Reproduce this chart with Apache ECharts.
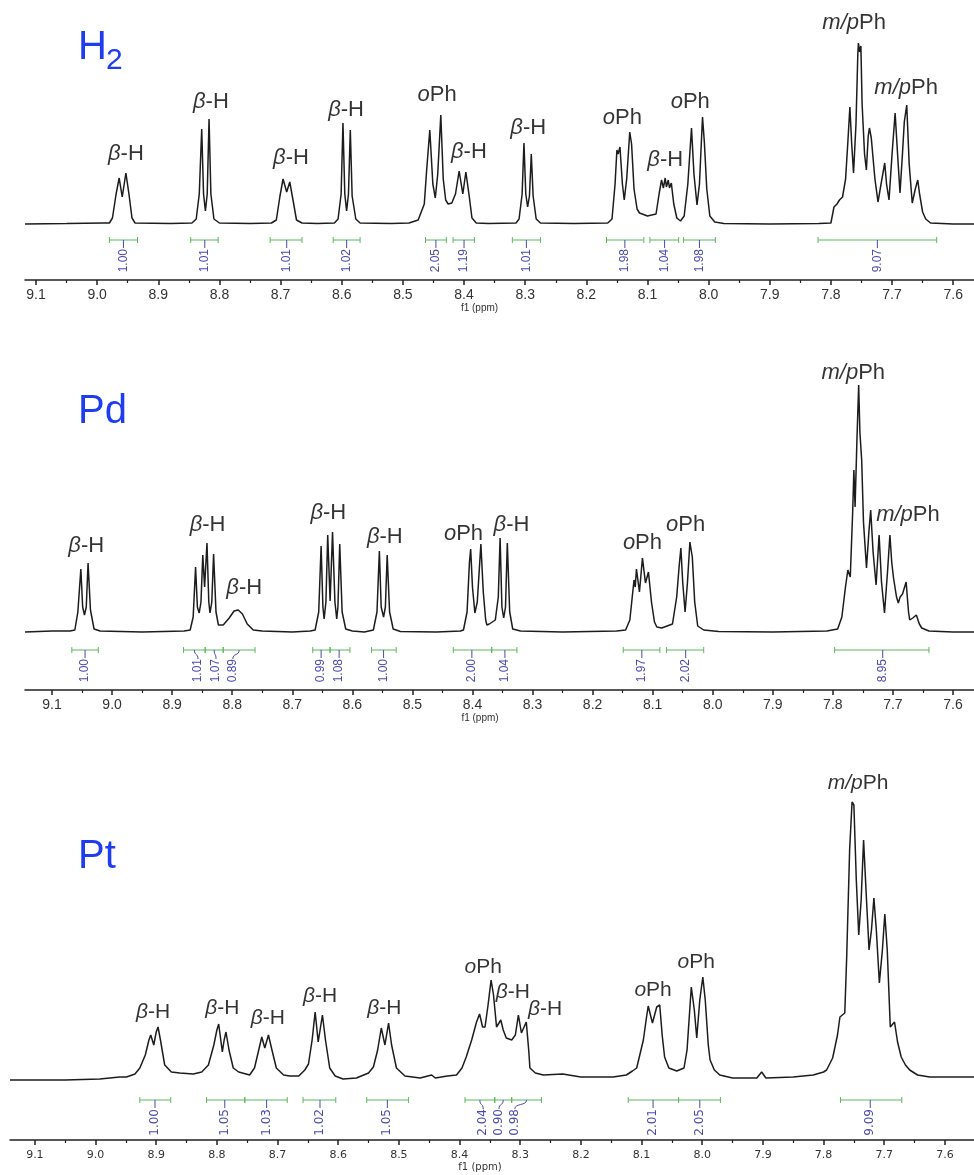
<!DOCTYPE html>
<html>
<head>
<meta charset="utf-8">
<title>1H NMR spectra</title>
<script src="https://cdn.jsdelivr.net/npm/echarts@6/dist/echarts.min.js"></script>
<style>
  html, body { margin: 0; padding: 0; background: #fff; }
  #chart { width: 974px; height: 1175px; }
</style>
</head>
<body>
<div id="chart"></div>
<script>
// ppm tick labels (shared by the three spectra)
const majorTicks = [7.6, 7.7, 7.8, 7.9, 8.0, 8.1, 8.2, 8.3, 8.4, 8.5, 8.6, 8.7, 8.8, 8.9, 9.0, 9.1];
const minorTicks = [7.65, 7.75, 7.85, 7.95, 8.05, 8.15, 8.25, 8.35, 8.45, 8.55, 8.65, 8.75, 8.85, 8.95, 9.05];

// H2 spectrum, [ppm, intensity]
const h2Spectrum = [
  [9.118, 0], [9.05, 0.5], [8.99, 1],
  [8.980, 1], [8.975, 6], [8.969, 30], [8.964, 46], [8.959, 27], [8.953, 51], [8.948, 30], [8.943, 6], [8.938, 1],
  [8.880, 0.5], [8.845, 1], [8.838, 5], [8.833, 30], [8.829, 95], [8.826, 30], [8.823, 13], [8.820, 30], [8.817, 105], [8.814, 30], [8.809, 5], [8.800, 1],
  [8.750, 0.5], [8.715, 1], [8.707, 4], [8.701, 28], [8.696, 45], [8.690, 32], [8.685, 42], [8.680, 25], [8.674, 4], [8.665, 1],
  [8.640, 0.5], [8.612, 1], [8.606, 5], [8.601, 30], [8.598, 101], [8.595, 30], [8.592, 13], [8.589, 30], [8.586, 94], [8.583, 28], [8.577, 5], [8.570, 1],
  [8.520, 0.5], [8.490, 1], [8.475, 4], [8.465, 20], [8.461, 55], [8.456, 94], [8.451, 40], [8.447, 26], [8.443, 50], [8.438, 109], [8.434, 45],
  [8.430, 24], [8.426, 20], [8.420, 21], [8.414, 30], [8.408, 53], [8.402, 30], [8.397, 52], [8.392, 30], [8.387, 6], [8.380, 1],
  [8.360, 0.5], [8.315, 1], [8.310, 5], [8.305, 30], [8.302, 81], [8.299, 30], [8.296, 17], [8.293, 28], [8.290, 70], [8.287, 28], [8.282, 5], [8.275, 1],
  [8.220, 0.5], [8.165, 1], [8.158, 5], [8.153, 40], [8.150, 74], [8.148, 70], [8.145, 77], [8.141, 40], [8.138, 24], [8.134, 45], [8.129, 92], [8.126, 80],
  [8.122, 35], [8.117, 15], [8.113, 11], [8.100, 8], [8.086, 10], [8.081, 30], [8.077, 44], [8.074, 36], [8.071, 46], [8.069, 37], [8.066, 44], [8.064, 36],
  [8.061, 41], [8.057, 20], [8.052, 6], [8.046, 3], [8.040, 8], [8.034, 40], [8.028, 96], [8.024, 50], [8.019, 19], [8.015, 40], [8.010, 107], [8.007, 82],
  [8.003, 35], [7.998, 8], [7.990, 2], [7.975, 0.5], [7.900, 0], [7.820, 0.5], [7.800, 1],
  [7.797, 3], [7.795, 17], [7.790, 20], [7.786, 24], [7.781, 27], [7.776, 45], [7.772, 85], [7.769, 117], [7.766, 80], [7.763, 51], [7.759, 100],
  [7.756, 170], [7.755, 181], [7.753, 172], [7.751, 178], [7.749, 120], [7.745, 70], [7.742, 54], [7.739, 88], [7.737, 96], [7.734, 86], [7.731, 86],
  [7.728, 45], [7.723, 22], [7.718, 40], [7.712, 61], [7.709, 40], [7.705, 24], [7.700, 70], [7.695, 111], [7.691, 70], [7.687, 31], [7.683, 70],
  [7.680, 102], [7.678, 100], [7.676, 119], [7.672, 60], [7.667, 21], [7.662, 35], [7.658, 44], [7.655, 30], [7.650, 12], [7.645, 5], [7.637, 1],
  [7.600, 0], [7.566, 0]
];
const h2Peaks = [
  [8.953, 70, 'β-H'], [8.814, 122, 'β-H'], [8.683, 66, 'β-H'], [8.593, 114, 'β-H'], [8.444, 129, 'oPh'], [8.392, 72, 'β-H'],
  [8.295, 96, 'β-H'], [8.141, 106, 'oPh'], [8.071, 64, 'β-H'], [8.030, 122, 'oPh'], [7.762, 201, 'm/pPh'], [7.677, 136, 'm/pPh']
];
// integrals: [from ppm, to ppm, value, label ppm]
const h2Integrals = [
  [8.980, 8.934, '1.00', 8.957], [8.847, 8.802, '1.01', 8.824], [8.717, 8.665, '1.01', 8.690], [8.614, 8.570, '1.02', 8.592],
  [8.463, 8.429, '2.05', 8.446], [8.418, 8.383, '1.19', 8.400], [8.321, 8.275, '1.01', 8.298], [8.167, 8.106, '1.98', 8.137],
  [8.096, 8.049, '1.04', 8.072], [8.041, 7.989, '1.98', 8.015], [7.821, 7.627, '9.07', 7.724]
];

// Pd spectrum
const pdSpectrum = [
  [9.145, 0], [9.100, 1], [9.070, 1],
  [9.062, 2], [9.057, 20], [9.052, 63], [9.049, 25], [9.046, 17], [9.043, 25], [9.040, 69], [9.036, 22], [9.030, 3], [9.020, 1],
  [8.950, 0], [8.880, 1], [8.870, 2], [8.865, 15], [8.861, 65], [8.858, 25], [8.855, 19], [8.852, 30], [8.849, 77], [8.846, 45], [8.842, 89],
  [8.839, 30], [8.837, 19], [8.834, 30], [8.831, 78], [8.827, 20], [8.823, 7], [8.815, 7], [8.805, 14], [8.797, 21], [8.790, 22], [8.783, 18],
  [8.775, 8], [8.765, 2], [8.750, 1], [8.700, 0], [8.670, 1],
  [8.662, 2], [8.656, 20], [8.652, 86], [8.649, 25], [8.647, 13], [8.644, 30], [8.641, 97], [8.637, 31], [8.633, 100], [8.629, 30], [8.626, 13],
  [8.624, 25], [8.621, 88], [8.617, 20], [8.611, 3], [8.600, 1], [8.580, 0],
  [8.565, 2], [8.559, 20], [8.555, 81], [8.552, 25], [8.548, 15], [8.545, 25], [8.542, 77], [8.538, 20], [8.532, 3], [8.520, 0.5],
  [8.460, 0], [8.420, 1], [8.415, 2], [8.409, 20], [8.405, 70], [8.403, 83], [8.400, 45], [8.396, 19], [8.392, 30], [8.386, 88], [8.382, 40],
  [8.378, 12], [8.376, 7], [8.372, 8], [8.362, 12], [8.357, 35], [8.354, 94], [8.351, 25], [8.348, 14], [8.345, 25], [8.342, 89], [8.338, 20],
  [8.333, 3], [8.320, 1], [8.250, 0], [8.160, 1],
  [8.145, 2], [8.138, 12], [8.134, 35], [8.131, 52], [8.129, 45], [8.127, 63], [8.122, 40], [8.117, 74], [8.112, 49], [8.107, 60], [8.102, 30],
  [8.097, 10], [8.093, 5], [8.085, 4], [8.067, 8], [8.060, 35], [8.056, 65], [8.053, 84], [8.050, 50], [8.046, 20], [8.042, 50], [8.038, 90],
  [8.034, 75], [8.030, 30], [8.025, 6], [8.015, 2], [7.990, 0.5], [7.900, 0], [7.810, 1],
  [7.792, 3], [7.785, 15], [7.779, 45], [7.775, 62], [7.771, 55], [7.767, 120], [7.765, 162], [7.763, 125], [7.760, 190], [7.757, 247], [7.755, 200],
  [7.752, 172], [7.749, 110], [7.744, 64], [7.740, 100], [7.737, 122], [7.733, 80], [7.728, 47], [7.723, 97], [7.719, 50], [7.714, 19], [7.709, 60],
  [7.705, 97], [7.702, 70], [7.699, 54], [7.694, 35], [7.691, 29], [7.688, 35], [7.684, 38], [7.678, 50], [7.674, 20], [7.672, 12], [7.667, 14],
  [7.661, 17], [7.656, 8], [7.652, 4], [7.640, 1], [7.600, 0], [7.565, 0]
];
const pdPeaks = [
  [9.043, 86, 'β-H'], [8.841, 107, 'β-H'], [8.780, 44, 'β-H'], [8.640, 119, 'β-H'], [8.546, 95, 'β-H'], [8.415, 98, 'oPh'],
  [8.335, 107, 'β-H'], [8.117, 89, 'oPh'], [8.045, 107, 'oPh'], [7.766, 259, 'm/pPh'], [7.675, 117, 'm/pPh']
];
const pdIntegrals = [
  [9.067, 9.023, '1.00', 9.045], [8.881, 8.845, '1.01', 8.857], [8.845, 8.815, '1.07', 8.827], [8.815, 8.762, '0.89', 8.799],
  [8.666, 8.637, '0.99', 8.652], [8.637, 8.604, '1.08', 8.622], [8.568, 8.527, '1.00', 8.548], [8.432, 8.368, '2.00', 8.401],
  [8.368, 8.326, '1.04', 8.346], [8.149, 8.088, '1.97', 8.118], [8.077, 8.015, '2.02', 8.045], [7.797, 7.640, '8.95', 7.717]
];

// Pt spectrum
const ptSpectrum = [
  [9.141, 0], [9.050, 0], [8.993, 1], [8.960, 3], [8.949, 3], [8.935, 6], [8.927, 12], [8.918, 25], [8.912, 40], [8.909, 45], [8.904, 35],
  [8.900, 48], [8.897, 53], [8.893, 40], [8.886, 15], [8.875, 8], [8.861, 7], [8.839, 6], [8.825, 8], [8.814, 15], [8.805, 35], [8.800, 50],
  [8.797, 56], [8.791, 28], [8.788, 40], [8.785, 48], [8.780, 30], [8.773, 12], [8.764, 8], [8.746, 5], [8.738, 12], [8.731, 30], [8.726, 43],
  [8.721, 32], [8.715, 45], [8.710, 32], [8.702, 12], [8.690, 5], [8.680, 4], [8.665, 4], [8.655, 10], [8.649, 16], [8.643, 40], [8.638, 68],
  [8.633, 38], [8.626, 65], [8.621, 40], [8.614, 12], [8.605, 4], [8.592, 1], [8.570, 2], [8.550, 7], [8.542, 13], [8.535, 30], [8.529, 52],
  [8.523, 35], [8.517, 57], [8.512, 35], [8.504, 12], [8.490, 4], [8.465, 2], [8.446, 5], [8.440, 2], [8.420, 4], [8.405, 5], [8.396, 12],
  [8.389, 23], [8.380, 40], [8.372, 58], [8.367, 66], [8.362, 53], [8.358, 53], [8.353, 75], [8.348, 100], [8.344, 85], [8.339, 53], [8.332, 60],
  [8.328, 50], [8.323, 42], [8.314, 40], [8.308, 45], [8.303, 65], [8.298, 47], [8.290, 58], [8.286, 30], [8.284, 12], [8.275, 7], [8.262, 5],
  [8.230, 6], [8.200, 3], [8.147, 3], [8.125, 5], [8.115, 9], [8.108, 12], [8.097, 40], [8.092, 62], [8.089, 74], [8.082, 57], [8.075, 73],
  [8.070, 75], [8.066, 45], [8.062, 23], [8.055, 12], [8.042, 9], [8.030, 12], [8.025, 30], [8.018, 93], [8.013, 70], [8.009, 42], [8.004, 80],
  [7.999, 103], [7.995, 80], [7.990, 35], [7.987, 20], [7.980, 10], [7.971, 5], [7.950, 2], [7.910, 2], [7.902, 8], [7.895, 2], [7.850, 3],
  [7.817, 5], [7.800, 8], [7.795, 10], [7.785, 22], [7.777, 45], [7.773, 63], [7.765, 67], [7.762, 120], [7.757, 230], [7.753, 278], [7.750, 275],
  [7.746, 200], [7.742, 145], [7.738, 180], [7.734, 240], [7.730, 190], [7.725, 130], [7.721, 150], [7.717, 182], [7.713, 150], [7.708, 97],
  [7.703, 130], [7.699, 166], [7.695, 130], [7.690, 53], [7.687, 55], [7.683, 58], [7.678, 38], [7.672, 23], [7.665, 15], [7.658, 10],
  [7.645, 5], [7.625, 3], [7.600, 3], [7.552, 3]
];
const ptPeaks = [
  [8.905, 68, 'β-H'], [8.791, 72, 'β-H'], [8.716, 62, 'β-H'], [8.630, 84, 'β-H'], [8.524, 72, 'β-H'], [8.361, 113, 'oPh'],
  [8.312, 88, 'β-H'], [8.259, 71, 'β-H'], [8.081, 90, 'oPh'], [8.010, 118, 'oPh'], [7.743, 297, 'm/pPh']
];
const ptIntegrals = [
  [8.927, 8.876, '1.00', 8.902], [8.817, 8.754, '1.05', 8.787], [8.754, 8.684, '1.03', 8.718], [8.658, 8.604, '1.02', 8.630],
  [8.553, 8.484, '1.05', 8.519], [8.391, 8.342, '2.04', 8.361], [8.342, 8.314, '0.90', 8.335], [8.314, 8.265, '0.98', 8.309],
  [8.122, 8.039, '2.01', 8.081], [8.039, 7.970, '2.05', 8.004], [7.772, 7.671, '9.09', 7.723]
];

const chart = echarts.init(document.getElementById('chart'), null, { renderer: 'canvas' });

const GREEN = '#5cb85c';
const BLUE = '#4a4aae';
const TITLE_BLUE = '#1e3cf0';

const panels = [
  { spectrum: h2Spectrum, peaks: h2Peaks, integrals: h2Integrals, top: 20, height: 260, left: 25,
    xMin: 7.566, xMax: 9.118, yMin: -56, yMax: 204, intLevel: -16,
    tickFont: 'Arial', tickSize: 14, labelMargin: 8, nameGap: 18, namePad: 40, peakSize: 22 },
  { spectrum: pdSpectrum, peaks: pdPeaks, integrals: pdIntegrals, top: 360, height: 330, left: 25,
    xMin: 7.565, xMax: 9.145, yMin: -58, yMax: 272, intLevel: -18,
    tickFont: 'Arial', tickSize: 14, labelMargin: 8, nameGap: 20, namePad: 39, peakSize: 22 },
  { spectrum: ptSpectrum, peaks: ptPeaks, integrals: ptIntegrals, top: 760, height: 380, left: 10,
    xMin: 7.552, xMax: 9.141, yMin: -60, yMax: 320, intLevel: -20,
    tickFont: 'DejaVu Sans', tickSize: 11, labelMargin: 10, nameGap: 22, namePad: 24, peakSize: 21 }
];

function peakLabel(text) {
  if (text === 'β-H') return '{i|β}{n|-H}';
  if (text === 'oPh') return '{i|o}{n|Ph}';
  return '{i|m/p}{n|Ph}';
}

function integralRenderer(list, level, font) {
  return function (params, api) {
    const item = list[params.dataIndex];
    const a = api.coord([item[0], level]);
    const b = api.coord([item[1], level]);
    const c = api.coord([(item[0] + item[1]) / 2, level]);
    const l = api.coord([item[3], level]);
    const y = a[1];
    const stroke = { stroke: GREEN, lineWidth: 1 };
    const children = [
      { type: 'line', shape: { x1: a[0], y1: y, x2: b[0], y2: y }, style: stroke },
      { type: 'line', shape: { x1: a[0], y1: y - 3, x2: a[0], y2: y + 3 }, style: stroke },
      { type: 'line', shape: { x1: b[0], y1: y - 3, x2: b[0], y2: y + 3 }, style: stroke }
    ];
    if (Math.abs(c[0] - l[0]) < 1.5) {
      children.push({ type: 'line', shape: { x1: l[0], y1: y, x2: l[0], y2: y + 8 },
        style: { stroke: BLUE, lineWidth: 1 } });
    } else {
      children.push({ type: 'bezierCurve',
        shape: { x1: c[0], y1: y, cpx1: c[0], cpy1: y + 6, cpx2: l[0], cpy2: y + 3, x2: l[0], y2: y + 9 },
        style: { stroke: BLUE, lineWidth: 1, fill: null } });
    }
    children.push({ type: 'text', x: l[0], y: y + 9, rotation: Math.PI / 2,
      style: { text: item[2], fill: BLUE, font: '12px ' + font, align: 'right', verticalAlign: 'middle' } });
    return { type: 'group', children: children };
  };
}

const grid = [], xAxis = [], yAxis = [], series = [];

panels.forEach(function (p, i) {
  grid.push({ left: p.left, right: 0, top: p.top, height: p.height });
  const base = { gridIndex: i, type: 'value', min: p.xMin, max: p.xMax, inverse: true, position: 'bottom',
    splitLine: { show: false } };
  xAxis.push(Object.assign({}, base, {
    name: 'f1 (ppm)', nameLocation: 'middle', nameGap: p.nameGap,
    nameTextStyle: { fontFamily: p.tickFont, fontSize: 10, color: '#333', padding: [0, p.namePad, 0, 0] },
    axisLine: { show: true, onZero: false, lineStyle: { color: '#222', width: 1.5 } },
    axisTick: { show: true, length: 5, customValues: majorTicks, lineStyle: { color: '#222', width: 1.5 } },
    axisLabel: { show: true, customValues: majorTicks, margin: p.labelMargin, color: '#333',
      fontFamily: p.tickFont, fontSize: p.tickSize, formatter: function (v) { return v.toFixed(1); } }
  }));
  xAxis.push(Object.assign({}, base, {
    axisLine: { show: false, onZero: false },
    axisTick: { show: true, length: 3, customValues: minorTicks, lineStyle: { color: '#222', width: 1.2 } },
    axisLabel: { show: false }
  }));
  yAxis.push({ gridIndex: i, type: 'value', min: p.yMin, max: p.yMax, show: false, splitLine: { show: false } });

  series.push({
    type: 'line', xAxisIndex: 2 * i, yAxisIndex: i, data: p.spectrum,
    showSymbol: false, symbol: 'none', smooth: false,
    lineStyle: { color: '#1c1c1c', width: 1.5 }
  });
  series.push({
    type: 'scatter', xAxisIndex: 2 * i, yAxisIndex: i, symbolSize: 0,
    data: p.peaks.map(function (d) { return [d[0], d[1]]; }),
    label: {
      show: true, position: 'inside', color: '#000', textBorderWidth: 0,
      formatter: function (prm) { return peakLabel(p.peaks[prm.dataIndex][2]); },
      rich: {
        i: { fontFamily: 'Arial', fontStyle: 'italic', fontSize: p.peakSize, color: '#000', textBorderWidth: 0 },
        n: { fontFamily: 'Arial', fontSize: p.peakSize, color: '#000', textBorderWidth: 0 }
      }
    }
  });
  series.push({
    type: 'custom', xAxisIndex: 2 * i, yAxisIndex: i,
    data: p.integrals.map(function (d) { return [d[0], d[1], d[3]]; }),
    encode: { x: [0, 1, 2] },
    renderItem: integralRenderer(p.integrals, p.intLevel, p.tickFont === 'Arial' ? 'Arial' : 'DejaVu Sans')
  });
});

const option = {
  backgroundColor: '#fff',
  animation: false,
  grid: grid,
  xAxis: xAxis,
  yAxis: yAxis,
  series: series,
  graphic: [
    { type: 'text', x: 78, y: 48, style: { text: 'H', font: '40px Arial', fill: TITLE_BLUE, verticalAlign: 'middle' } },
    { type: 'text', x: 106, y: 61, style: { text: '2', font: '30px Arial', fill: TITLE_BLUE, verticalAlign: 'middle' } },
    { type: 'text', x: 78, y: 412, style: { text: 'Pd', font: '40px Arial', fill: TITLE_BLUE, verticalAlign: 'middle' } },
    { type: 'text', x: 78, y: 857, style: { text: 'Pt', font: '40px Arial', fill: TITLE_BLUE, verticalAlign: 'middle' } }
  ]
};

chart.setOption(option);
</script>
</body>
</html>
